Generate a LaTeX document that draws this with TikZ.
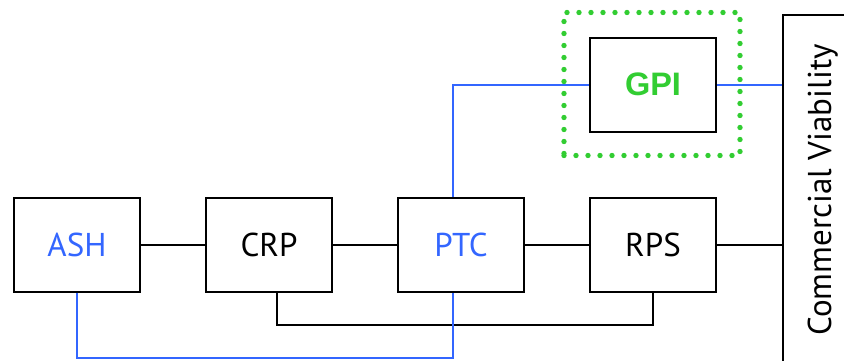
\documentclass[tikz,border=0pt]{standalone}
\usepackage{fontspec}
\setmainfont{PT Sans}
\newfontfamily\gpifont{Liberation Sans}
\usetikzlibrary{calc}
\definecolor{lnblue}{RGB}{51,102,255}
\definecolor{lngreen}{RGB}{50,205,50}
\tikzset{
  box/.style={draw=black, line width=2pt, minimum width=126pt, minimum height=94pt, inner sep=0pt, font=\fontsize{33}{33}\selectfont},
  blk/.style={draw=black, line width=2pt},
  blu/.style={draw=lnblue, line width=2pt},
  frame/.style={draw=lngreen, line width=5.4pt, line cap=round, dash pattern=on 0pt off 12pt, minimum width=176pt, minimum height=143pt, inner sep=0pt},
}
\begin{document}
\begin{tikzpicture}[x=1pt,y=1pt]
\clip (0,0) rectangle (844,360);
\fill[white] (0,0) rectangle (844,360);
% main row
\node[box, text=lnblue] (ash) at (77,115.3) {ASH};
\node[box] (crp) at (269,115.3) {CRP};
\node[box, text=lnblue] (ptc) at (461,115.3) {PTC};
\node[box] (rps) at (653,115.3) {RPS};
\node[box, text=lngreen, font=\fontsize{32.5}{33}\selectfont\gpifont\bfseries] (gpi) at (653,275.3) {GPI};
% commercial viability
\node[blk, anchor=north west, minimum width=140pt, minimum height=420pt, inner sep=0pt] (cv) at (781.7,346) {};
\node[rotate=90, anchor=base, font=\fontsize{33}{33}\selectfont, inner sep=0pt] (cvtext) at (831,170) {Commercial Viability};
% black connectors
\draw[blk] (ash.east) -- (crp.west);
\draw[blk] (crp.east) -- (ptc.west);
\draw[blk] (ptc.east) -- (rps.west);
\draw[blk] (rps.east) -- (rps.east -| cv.west);
\coordinate (crpb) at ($(crp.south)+(8,0)$);
\draw[blk] (crpb) -- ++(0,-32.6) -| (rps.south);
% blue connectors
\coordinate (ptct) at ($(ptc.north)+(-8.3,0)$);
\coordinate (ptcb) at ($(ptc.south)+(-8.3,0)$);
\draw[blu] (ptct) |- (gpi.west);
\draw[blu] (gpi.east) -- (gpi.east -| cv.west);
\draw[blu] (ash.south) -- ++(0,-65) -| (ptcb);
% dotted frame
\node[frame] (gpiframe) at (652,276) {};
\end{tikzpicture}
\end{document}
